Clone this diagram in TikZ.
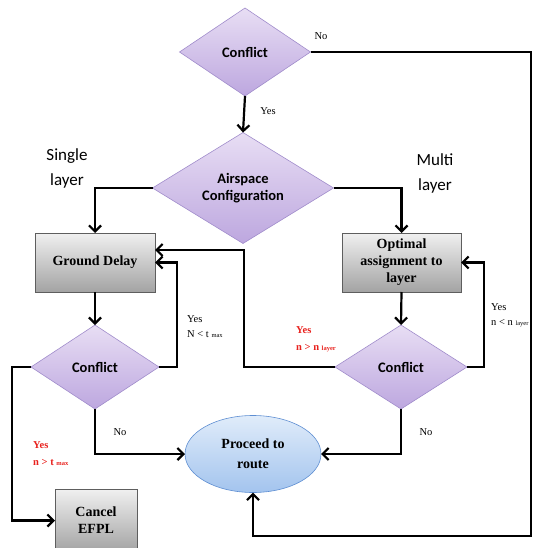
\documentclass[tikz,border=0pt]{standalone}
\usepackage{fontspec}
\setmainfont{Liberation Serif}
\newfontfamily\calib{Carlito}
\usetikzlibrary{shapes.geometric,arrows.meta}
\definecolor{dtop}{HTML}{E8DEF4}
\definecolor{dbot}{HTML}{BDA7DF}
\definecolor{dline}{HTML}{A08CCB}
\definecolor{btop}{HTML}{F0F0F0}
\definecolor{bbot}{HTML}{A3A3A3}
\definecolor{bline}{HTML}{5E5E5E}
\definecolor{etop}{HTML}{E0ECFA}
\definecolor{ebot}{HTML}{A3C4EE}
\definecolor{eline}{HTML}{5E8ED2}
\definecolor{redlab}{HTML}{E8201C}
\tikzset{
  dec/.style={diamond, draw=dline, line width=0.6pt, top color=dtop, bottom color=dbot,
    inner sep=0pt, outer sep=0pt, font=\calib\bfseries\fontsize{14.5}{16.5}\selectfont, align=center},
  procbox/.style={rectangle, draw=bline, line width=0.8pt, top color=btop, bottom color=bbot,
    inner sep=0pt, outer sep=0pt, font=\bfseries\fontsize{14}{17}\selectfont, align=center},
  term/.style={ellipse, draw=eline, line width=0.6pt, top color=etop, bottom color=ebot,
    inner sep=0pt, outer sep=0pt, font=\bfseries\fontsize{14}{20}\selectfont, align=center},
  arr/.style={line width=2.2pt, -{Straight Barb[length=6pt,width=12pt,line width=2.2pt]}},
  lab/.style={font=\fontsize{10.5}{15}\selectfont, align=left, inner sep=0pt},
  rlab/.style={font=\bfseries\fontsize{10.5}{17}\selectfont, text=redlab, align=left, inner sep=0pt},
  side/.style={font=\calib\fontsize{17}{25}\selectfont, align=center, inner sep=0pt}
}
\newcommand{\smallsub}[1]{{\fontsize{6.5}{8}\selectfont #1}}
\begin{document}
\begin{tikzpicture}[x=1pt,y=-1pt]
\useasboundingbox (0,0) rectangle (536,548);
\clip (0,0) rectangle (536,548);
% nodes
\node[dec, minimum width=131pt, minimum height=88pt] (c1) at (245,52) {Conflict};
\node[dec, minimum width=181pt, minimum height=110pt] (air) at (243,188) {Airspace\\Configuration};
\node[procbox, minimum width=120pt, minimum height=59pt] (gd) at (95,262.5) {Ground Delay};
\node[procbox, minimum width=119pt, minimum height=59pt] (opt) at (401.5,262.5) {Optimal\\assignment to\\layer};
\node[dec, minimum width=128pt, minimum height=84pt] (c2) at (95,367) {Conflict};
\node[dec, minimum width=132pt, minimum height=84pt] (c3) at (401,367) {Conflict};
\node[term, minimum width=136pt, minimum height=77pt] (pr) at (253,454) {Proceed to\\route};
\node[procbox, minimum width=82pt, minimum height=63pt] (cn) at (96,520.5) {Cancel\\EFPL};
\coordinate (bt) at (531,536);
% connectors
\draw[arr] (c1.south) -- (air.north);
\draw[arr] (c1.east) -| (bt) -| (pr.south);
\draw[arr] (air.west) -| (gd.north);
\draw[arr] (air.east) -| (opt.north);
\draw[arr] (gd.south) -- (c2.north);
\draw[arr] (opt.south) -- (c3.north);
\draw[arr] (c2.east) -- ++(18,0) |- (gd.east);
\draw[arr] (c3.west) -- ++(-91,0) |- ([yshift=12.5pt]gd.east);
\draw[arr] (c3.east) -- ++(17,0) |- (opt.east);
\draw[arr] (c2.south) |- (pr.west);
\draw[arr] (c3.south) |- (pr.east);
\draw[arr] (c2.west) -- ++(-19,0) |- (cn.west);
% labels
\node[lab] (lno1) at (321,36) {No};
\node[lab] (lyes1) at (268,111) {Yes};
\node[side] (single) at (67,168) {Single\\layer};
\node[side] (multi) at (435,173) {Multi\\layer};
\node[lab, anchor=west] (ly2) at (187,327) {Yes\\N < t \smallsub{max}};
\node[rlab, anchor=west] (ly3) at (296,339) {Yes\\n > n \smallsub{layer}};
\node[lab, anchor=west] (ly4) at (491,315) {Yes\\n < n \smallsub{layer}};
\node[lab] (lno2) at (120,432) {No};
\node[lab] (lno3) at (426,432) {No};
\node[rlab, anchor=west] (ly5) at (33,454) {Yes\\n > t \smallsub{max}};
\end{tikzpicture}
\end{document}
